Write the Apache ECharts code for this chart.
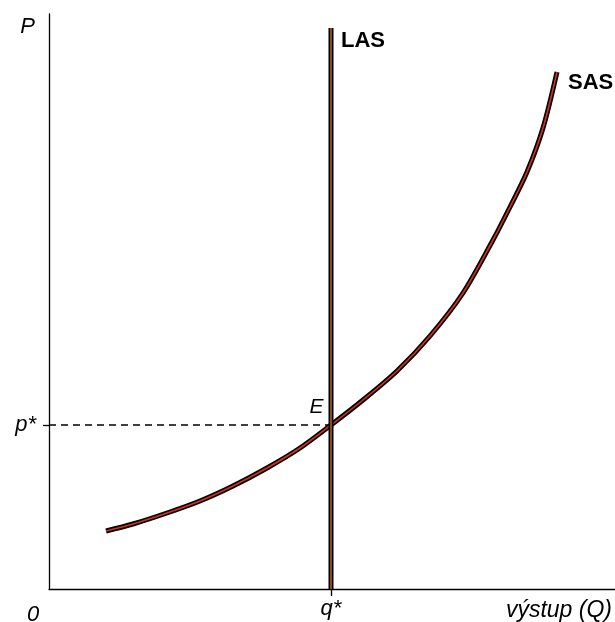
<!DOCTYPE html>
<html>
<head>
<meta charset="utf-8">
<script src="https://cdn.jsdelivr.net/npm/echarts@6/dist/echarts.min.js"></script>
<style>html,body{margin:0;padding:0;background:#fff}#c{width:615px;height:622px}</style>
</head>
<body>
<div id="c"></div>
<script>
// Data (arbitrary units: x = output, y = price level)
const xMax = 566;
const yMax = 575;
const qStar = 282;
const pStar = 164;
const lasTop = 561;
const sasX = [57, 84, 118, 151, 184, 218, 251, 282, 314, 348, 381, 414, 444, 461, 478, 494, 508];
const sasY = [58, 65, 76, 88, 103, 121, 141, 164, 189, 218, 253, 296, 349, 382, 417, 461, 517];
const xTickLabels = ['0', 'q*'];
const yTickLabels = ['p*'];
const xAxisName = 'výstup (Q)';
const yAxisName = 'P';

const sasData = sasX.map((x, i) => [x, sasY[i]]);
const lasData = [[qStar, 0], [qStar, lasTop]];
const dashData = [[0, pStar], [qStar, pStar]];

const font = 'Liberation Sans, Arial, sans-serif';
const fs = 22;
const chart = echarts.init(document.getElementById('c'), null, {renderer: 'canvas'});
chart.setOption({
  animation: false,
  backgroundColor: '#fff',
  grid: {left: 49, right: 0, top: 14, bottom: 33, containLabel: false, outerBoundsMode: 'none'},
  xAxis: {
    type: 'value', min: 0, max: xMax,
    splitLine: {show: false},
    axisLine: {show: true, lineStyle: {color: '#000', width: 1.3}},
    axisTick: {show: true, customValues: [qStar], length: 7, lineStyle: {color: '#000', width: 1.3}},
    axisLabel: {
      show: true, customValues: [0, qStar], margin: 9,
      color: '#000', fontFamily: font, fontSize: fs, fontStyle: 'italic',
      formatter: v => v === 0 ? '{z|' + xTickLabels[0] + '}' : '{q|' + xTickLabels[1] + '}',
      rich: {
        z: {padding: [6, 32, 0, 0], color: '#000', fontFamily: font, fontSize: fs, fontStyle: 'italic'},
        q: {color: '#000', fontFamily: font, fontSize: fs, fontStyle: 'italic'}
      }
    },
    name: xAxisName, nameLocation: 'end', nameGap: -3,
    nameTextStyle: {align: 'right', verticalAlign: 'top', padding: [10, 0, 0, 0], color: '#000', fontFamily: font, fontSize: fs + 1, fontStyle: 'italic'}
  },
  yAxis: {
    type: 'value', min: 0, max: yMax,
    splitLine: {show: false},
    axisLine: {show: true, lineStyle: {color: '#000', width: 1.3}},
    axisTick: {show: true, customValues: [pStar], length: 6, lineStyle: {color: '#000', width: 1.3}},
    axisLabel: {
      show: true, customValues: [pStar], margin: 13,
      color: '#000', fontFamily: font, fontSize: fs, fontStyle: 'italic',
      formatter: () => yTickLabels[0]
    },
    name: yAxisName, nameLocation: 'end', nameGap: -2,
    nameTextStyle: {align: 'right', verticalAlign: 'top', padding: [0, 14, 0, 0], color: '#000', fontFamily: font, fontSize: fs, fontStyle: 'italic'}
  },
  series: [
    {type: 'line', data: dashData, showSymbol: false, silent: true,
      lineStyle: {color: '#000', width: 1.3, type: [7, 5]}},
    {type: 'line', data: sasData, smooth: 0.3, showSymbol: false, silent: true,
      lineStyle: {color: '#000', width: 5, cap: 'butt'}},
    {type: 'line', data: sasData, smooth: 0.3, showSymbol: false, silent: true,
      lineStyle: {color: '#d8301f', width: 1.6},
      endLabel: {show: true, formatter: 'SAS', offset: [3, 11], color: '#000', fontFamily: font, fontSize: fs, fontWeight: 'bold'}},
    {type: 'line', data: lasData, showSymbol: false, silent: true,
      lineStyle: {color: '#000', width: 5, cap: 'butt'}},
    {type: 'line', data: lasData, showSymbol: false, silent: true,
      lineStyle: {color: '#8b4a1b', width: 2},
      endLabel: {show: true, formatter: 'LAS', offset: [2, 13], color: '#000', fontFamily: font, fontSize: fs, fontWeight: 'bold'}},
    {type: 'scatter', data: [[qStar, pStar]], symbolSize: 1, silent: true, z: 10,
      itemStyle: {color: 'rgba(0,0,0,0)'},
      label: {show: true, formatter: 'E', position: 'left', distance: 0, offset: [-7, -18], opacity: 1, color: '#000', textBorderWidth: 0, fontFamily: font, fontSize: 21, fontStyle: 'italic'}}
  ]
});
</script>
</body>
</html>
